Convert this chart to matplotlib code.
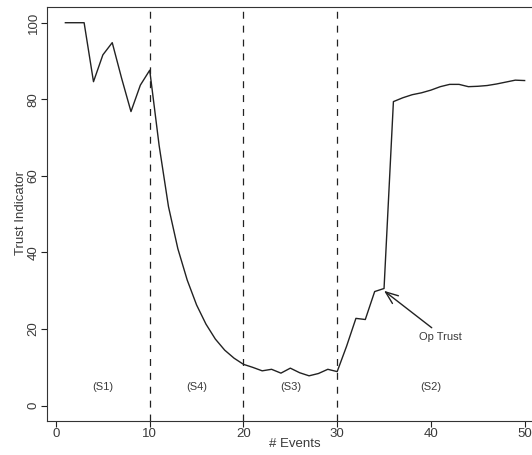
import numpy as np
import matplotlib
matplotlib.use("Agg")
import matplotlib.pyplot as plt

plt.rcParams['font.family'] = ['Liberation Sans', 'DejaVu Sans']
plt.rcParams['lines.scale_dashes'] = False

# data
events = np.arange(1, 51)
trust = [100, 100, 100, 84.6, 91.6, 94.8, 85.5, 76.8, 83.7, 87.6,
         68.0, 52.0, 41.0, 32.8, 26.3, 21.3, 17.4, 14.5, 12.4, 10.8,
         10.0, 9.1, 9.5, 8.5, 9.8, 8.6, 7.8, 8.4, 9.5, 8.9,
         15.5, 22.8, 22.5, 29.8, 30.6, 79.4, 80.4, 81.2, 81.7, 82.4,
         83.3, 83.9, 83.9, 83.3, 83.4, 83.6, 84.0, 84.5, 85.0, 84.9]
phase_bounds = [10, 20, 30]
phase_names = ['(S1)', '(S4)', '(S3)', '(S2)']
phase_x = [5, 15, 25, 40]
phase_y = 5
x_ticks = [0, 10, 20, 30, 40, 50]
y_ticks = [0, 20, 40, 60, 80, 100]

ink = '#222222'
txt = '#3a3a3a'
fig = plt.figure(figsize=(5.32, 4.55), dpi=100)
ax = fig.add_axes([47 / 532, 1 - 421 / 455, 496 / 532, 413.6 / 455])

ax.plot(events, trust, color=ink, lw=1.0)
for b in phase_bounds:
    ax.axvline(b, color=ink, lw=0.9, linestyle=(0, (5, 5)))

for name, px in zip(phase_names, phase_x):
    ax.text(px, phase_y, name, ha='center', va='center', fontsize=8, color=txt)

ax.annotate('Op Trust', xy=(35, 30), xytext=(41, 18), ha='center', va='center',
            fontsize=8, color=txt,
            arrowprops=dict(arrowstyle='->,head_length=0.9,head_width=0.35',
                            color=ink, lw=1.0, mutation_scale=10,
                            shrinkA=0, shrinkB=0,
                            relpos=(0.3, 1.4)))

ax.set_xlim(1 - 0.04 * 49, 50 + 0.04 * 49)
ax.set_ylim(-4, 104)
ax.set_xticks(x_ticks)
ax.set_yticks(y_ticks)
ax.tick_params(direction='out', length=4.3, width=0.8, colors=ink,
               labelcolor=txt, labelsize=9.5, pad=1)
for lab in ax.get_yticklabels():
    lab.set_rotation(90)
    lab.set_va('center')
for s in ax.spines.values():
    s.set_linewidth(0.8)
    s.set_color('#333333')

ax.set_xlabel('# Events', fontsize=9.5, color=txt)
ax.set_ylabel('Trust Indicator', fontsize=9.5, color=txt)
ax.xaxis.label.set_va('center')
ax.yaxis.label.set_va('center')
ax.xaxis.set_label_coords((295 - 47) / 496, (421 - 444) / 413.6)
ax.yaxis.set_label_coords((21 - 47) / 496, (421 - 213) / 413.6)

fig.savefig('out.png', dpi=100)
